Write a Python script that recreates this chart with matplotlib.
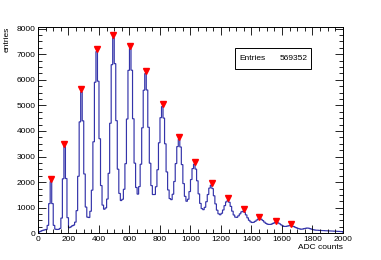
import matplotlib
matplotlib.use("Agg")
import matplotlib.pyplot as plt
import numpy as np
from matplotlib.patches import Rectangle
from matplotlib.ticker import MultipleLocator

# %%
# ADC spectrum, 10-count bins from 0 to 2000
bin_width = 10
counts = [
    40, 70, 100, 120, 135, 150, 310, 1160, 2020, 1160,
    310, 160, 150, 155, 190, 595, 2130, 3390, 2140, 610,
    220, 250, 290, 320, 436, 885, 2228, 4354, 5520, 4394,
    2318, 1025, 632, 617, 861, 1685, 3575, 5902, 7100, 5942,
    3695, 1865, 1101, 941, 992, 1338, 2344, 4300, 6588, 7640,
    6628, 4400, 2504, 1558, 1280, 1329, 1720, 2720, 4465, 6367,
    7220, 6372, 4475, 2740, 1790, 1530, 1825, 2698, 4122, 5590,
    6240, 5600, 4142, 2738, 1863, 1514, 1516, 1820, 2483, 3537,
    4517, 4950, 4502, 3497, 2398, 1693, 1356, 1315, 1526, 2023,
    2724, 3387, 3670, 3372, 2684, 1943, 1443, 1252, 1331, 1630,
    2101, 2528, 2700, 2508, 2051, 1540, 1168, 965, 923, 1015,
    1234, 1515, 1766, 1880, 1746, 1465, 1149, 903, 761, 725,
    782, 911, 1081, 1227, 1280, 1212, 1051, 865, 715, 631,
    624, 682, 759, 836, 860, 816, 719, 604, 508, 446,
    423, 432, 468, 518, 558, 580, 548, 498, 438, 389,
    357, 346, 349, 366, 397, 419, 430, 409, 372, 331,
    290, 270, 268, 280, 295, 300, 289, 268, 241, 216,
    190, 173, 160, 165, 180, 195, 205, 200, 180, 160,
    140, 128, 122, 118, 114, 110, 108, 104, 100, 98,
    95, 92, 90, 86, 82, 80, 76, 73, 70, 66,
]

# peak positions found by the peak search (red markers)
peak_x = [85, 173, 283, 388, 493, 605, 708, 818, 923, 1028,
          1138, 1245, 1349, 1452, 1561, 1658]
peak_y = [2120, 3490, 5625, 7200, 7745, 7320, 6340, 5050, 3770, 2800,
          1980, 1370, 940, 650, 490, 350]

n_entries = 569352

# %%
plt.rcParams["font.family"] = ["Liberation Sans", "DejaVu Sans"]

fig = plt.figure(figsize=(3.81, 2.60), dpi=100)
ax = fig.add_axes([0.0997, 0.1027, 0.8005, 0.7935])

edges = np.arange(len(counts) + 1) * bin_width
hist = ax.stairs(counts, edges, color="#3434aa", lw=0.85)
hist.set_snap(False)
ax.plot(peak_x, peak_y, ls="none", marker="v", ms=4.5, color="red", mec="red")

ax.set_xlim(0, 2000)
ax.set_ylim(0, 8060)
ax.xaxis.set_major_locator(MultipleLocator(200))
ax.xaxis.set_minor_locator(MultipleLocator(50))
ax.yaxis.set_major_locator(MultipleLocator(1000))
ax.yaxis.set_minor_locator(MultipleLocator(250))
ax.tick_params(which="both", direction="in", top=True, right=True,
               labelsize=6, width=0.6, pad=2)
ax.tick_params(which="major", length=6)
ax.tick_params(which="minor", length=3)
for sp in ax.spines.values():
    sp.set_linewidth(0.7)

ax.set_xlabel("ADC counts", fontsize=6, loc="right", labelpad=1)
ax.set_ylabel("entries", fontsize=6, loc="top", labelpad=4)

# stats box
fig.patches.append(Rectangle((0.617, 0.735), 0.199, 0.0815, transform=fig.transFigure,
                             fill=True, fc="white", ec="black", lw=0.7))
fig.text(0.628, 0.776, "Entries", fontsize=6, va="center", ha="left")
fig.text(0.808, 0.776, f"{n_entries}", fontsize=6, va="center", ha="right")

plt.savefig("out.png", dpi=100)
